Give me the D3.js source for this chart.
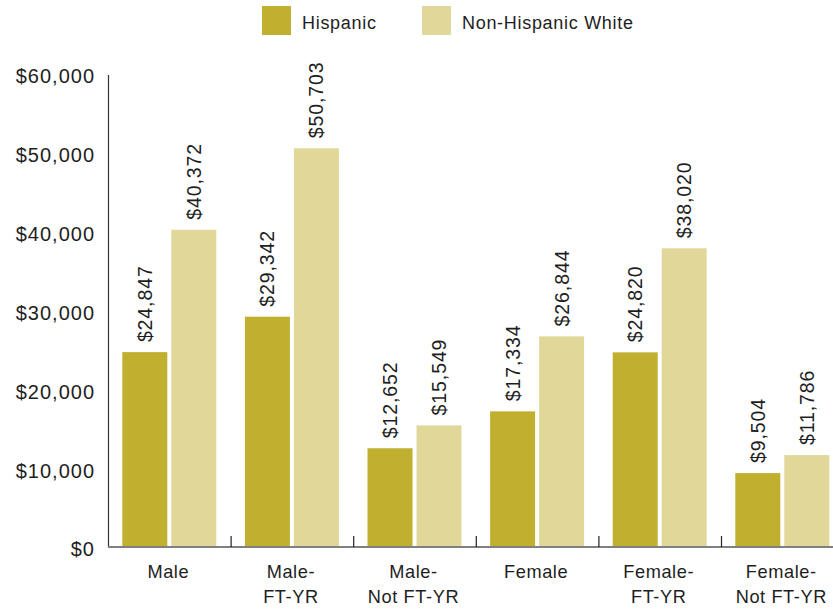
<!DOCTYPE html>
<html>
<head>
<meta charset="utf-8">
<script src="https://d3js.org/d3.v7.min.js"></script>
<style>
  html, body { margin: 0; padding: 0; background: #fff; }
  svg text { font-family: "Liberation Sans", Arial, sans-serif; fill: #1e1e1e; }
</style>
</head>
<body>
<svg id="chart" width="833" height="611"></svg>
<script>
const categories = [["Male"], ["Male-", "FT-YR"], ["Male-", "Not FT-YR"], ["Female"], ["Female-", "FT-YR"], ["Female-", "Not FT-YR"]];
const seriesNames = ["Hispanic", "Non-Hispanic White"];
const hispanic = [24847, 29342, 12652, 17334, 24820, 9504];
const nonHispanicWhite = [40372, 50703, 15549, 26844, 38020, 11786];
const yTicks = [0, 10000, 20000, 30000, 40000, 50000, 60000];
const colors = ["#C1AF30", "#E0D799"];

const svg = d3.select("#chart");
const catKeys = categories.map(c => c.join(" "));
const seriesValues = [hispanic, nonHispanicWhite];

const x = d3.scaleBand().domain(catKeys).range([108, 843.6]).padding(0);
const x1 = d3.scaleBand().domain(seriesNames).range([0, x.bandwidth()])
  .paddingInner(4 / 49).paddingOuter(0.292);
const y = d3.scaleLinear().domain([0, 60000]).range([548, 75]);

const fmt = v => "$" + d3.format(",")(v);

// bars
const groups = svg.append("g").selectAll("g")
  .data(catKeys).join("g")
  .attr("transform", d => `translate(${x(d)},0)`);

groups.each(function(cat, i) {
  const g = d3.select(this);
  seriesNames.forEach((s, j) => {
    const v = seriesValues[j][i];
    g.append("rect")
      .attr("x", x1(s))
      .attr("y", y(v))
      .attr("width", x1.bandwidth())
      .attr("height", y(0) - y(v))
      .attr("fill", colors[j]);
    const cx = x1(s) + x1.bandwidth() / 2;
    g.append("text")
      .attr("transform", `translate(${cx},${y(v) - 10}) rotate(-90)`)
      .attr("dy", "0.36em")
      .attr("text-anchor", "start")
      .style("font-size", "19.5px")
      .style("letter-spacing", "0.9px")
      .text(fmt(v));
  });
});

// y axis
const yAxis = d3.axisLeft(y).tickValues(yTicks).tickSize(0).tickPadding(13).tickFormat(fmt);
const yg = svg.append("g").attr("transform", "translate(108,1.5)").call(yAxis);
yg.select(".domain").remove();
yg.selectAll("text")
  .style("font-size", "20px")
  .style("letter-spacing", "1px")
  .style("fill", "#1e1e1e");
svg.append("line")
  .attr("x1", 108.5).attr("x2", 108.5)
  .attr("y1", y(60000)).attr("y2", y(0))
  .attr("stroke", "#333").attr("stroke-width", 1.2);

// x axis baseline
svg.append("line")
  .attr("x1", 108).attr("x2", 843.6)
  .attr("y1", y(0) - 1).attr("y2", y(0) - 1)
  .attr("stroke", "#808080").attr("stroke-width", 2);

// group separator ticks
svg.append("g").selectAll("line")
  .data(catKeys.slice(1)).join("line")
  .attr("x1", d => x(d) + 0.5).attr("x2", d => x(d) + 0.5)
  .attr("y1", y(0) - 12).attr("y2", y(0) - 1)
  .attr("stroke", "#222").attr("stroke-width", 1.2);

// category labels
const labels = svg.append("g").selectAll("text")
  .data(categories).join("text")
  .attr("x", (d, i) => x(catKeys[i]) + x.bandwidth() / 2 - 1)
  .attr("y", 578)
  .attr("text-anchor", "middle")
  .style("font-size", "18.2px")
  .style("letter-spacing", "0.6px");
labels.each(function(d) {
  const t = d3.select(this);
  d.forEach((line, k) => {
    t.append("tspan")
      .attr("x", t.attr("x"))
      .attr("dy", k === 0 ? 0 : 25)
      .text(line);
  });
});

// legend
const legendX = [262, 422];
const legend = svg.append("g").selectAll("g")
  .data(seriesNames).join("g")
  .attr("transform", (d, i) => `translate(${legendX[i]},6)`);
legend.append("rect")
  .attr("width", 29).attr("height", 29)
  .attr("fill", (d, i) => colors[i]);
legend.append("text")
  .attr("x", 40).attr("y", 23)
  .style("font-size", "18px")
  .style("letter-spacing", "0.7px")
  .text(d => d);
</script>
</body>
</html>
